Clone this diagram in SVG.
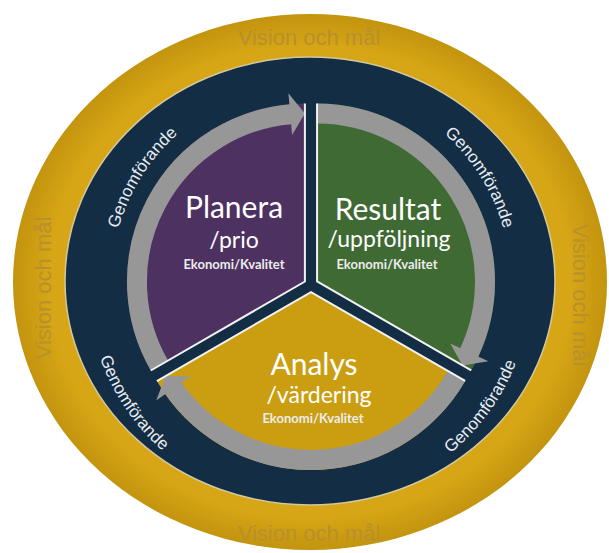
<svg xmlns="http://www.w3.org/2000/svg" width="609" height="553" viewBox="0 0 609 553">
  <style>
    .vision { font-family: "Liberation Sans", Arial, sans-serif; font-size: 22px; fill: #B8902C; text-anchor: middle; }
    .ring { font-family: "Liberation Sans", Arial, sans-serif; font-size: 17px; fill: #E8ECF0; }
    .title { font-family: Lato, "Open Sans", sans-serif; font-size: 30px; fill: #FFFFFF; text-anchor: middle; }
    .sub { font-family: Lato, "Open Sans", sans-serif; font-size: 23px; fill: #FFFFFF; text-anchor: middle; }
    .small { font-family: Lato, "Open Sans", sans-serif; font-size: 13px; font-weight: 700; fill: #ECECEC; text-anchor: middle; }
    .edge { fill: none; stroke: #F2F2F2; stroke-width: 2; }
    .band { fill: none; stroke: #979797; stroke-width: 20; }
    .head { fill: #979797; }
  </style>
  <defs>
    <radialGradient id="goldFill" cx="50%" cy="50%" r="50%">
      <stop offset="0.88" stop-color="#D6A616"/>
      <stop offset="1" stop-color="#C3940E"/>
    </radialGradient>
    <!-- one exploded 120° wedge (upper-left orientation); others are rotations about 311,285 -->
    <path id="wedge" d="M304.9,281.5 L150.8,370.5 A178,178 0 0 1 304.9,103.5 Z"/>
    <path id="wedgeEdge" d="M150.8,370.5 L304.9,281.5 L304.9,103.5"/>
    <g id="cycleArrow">
      <path class="band" d="M159.4,365.5 A168,168 0 0 1 290.8,114.2"/>
      <path class="head" d="M288.4,93.2 L304.9,113.5 L292.1,135.1 Z"/>
    </g>
    <!-- baselines for the curved ring labels -->
    <path id="pathUL" d="M112.9,310.8 A200,200 0 0 1 249.2,92.8"/>
    <path id="pathUR" d="M372.8,92.8 A200,200 0 0 1 509.1,310.8"/>
    <path id="pathLL" d="M88.2,259.6 A224,224 0 0 0 249.3,498.3"/>
    <path id="pathLR" d="M364.2,496.5 A220,220 0 0 0 530.5,267.6"/>
  </defs>

  <!-- outer ring: vision and goals -->
  <g id="vision">
    <ellipse cx="310" cy="282" rx="297" ry="268" fill="url(#goldFill)"/>
    <text class="vision" x="309" y="45">Vision och mål</text>
    <text class="vision" x="309" y="541">Vision och mål</text>
    <text class="vision" transform="translate(51,288) rotate(-90)">Vision och mål</text>
    <text class="vision" transform="translate(573,295) rotate(90)">Vision och mål</text>
  </g>

  <!-- middle ring: implementation -->
  <g id="genomforande">
    <ellipse cx="310" cy="281" rx="245" ry="224" fill="#132D45" stroke="#D2C8A0" stroke-width="1.5"/>
    <text class="ring"><textPath href="#pathUL" startOffset="50%" text-anchor="middle">Genomförande</textPath></text>
    <text class="ring"><textPath href="#pathUR" startOffset="50%" text-anchor="middle">Genomförande</textPath></text>
    <text class="ring"><textPath href="#pathLL" startOffset="50%" text-anchor="middle">Genomförande</textPath></text>
    <text class="ring"><textPath href="#pathLR" startOffset="50%" text-anchor="middle">Genomförande</textPath></text>
  </g>

  <g id="planera">
    <use href="#wedge" fill="#4D3160"/>
  </g>
  <g id="resultat">
    <use href="#wedge" fill="#3F6A33" transform="rotate(120 311 285)"/>
  </g>
  <g id="analys">
    <use href="#wedge" fill="#CB9E12" transform="rotate(240 311 285)"/>
  </g>

  <!-- clockwise cycle arrows along each wedge rim -->
  <g id="connectors">
    <use href="#cycleArrow"/>
    <use href="#cycleArrow" transform="rotate(120 311 285)"/>
    <use href="#cycleArrow" transform="rotate(240 311 285)"/>
  </g>

  <!-- light edges along straight sides of wedges -->
  <g id="wedge-edges">
    <use href="#wedgeEdge" class="edge"/>
    <use href="#wedgeEdge" class="edge" transform="rotate(120 311 285)"/>
    <use href="#wedgeEdge" class="edge" transform="rotate(240 311 285)"/>
  </g>

  <g id="planera-text">
    <text class="title" x="234" y="218">Planera</text>
    <text class="sub" x="234" y="248">/prio</text>
    <text class="small" x="234" y="269">Ekonomi/Kvalitet</text>
  </g>
  <g id="resultat-text">
    <text class="title" x="388" y="220">Resultat</text>
    <text class="sub" x="389" y="247">/uppföljning</text>
    <text class="small" x="387" y="269">Ekonomi/Kvalitet</text>
  </g>
  <g id="analys-text">
    <text class="title" x="314" y="375">Analys</text>
    <text class="sub" x="319" y="403">/värdering</text>
    <text class="small" x="313" y="423">Ekonomi/Kvalitet</text>
  </g>
</svg>
